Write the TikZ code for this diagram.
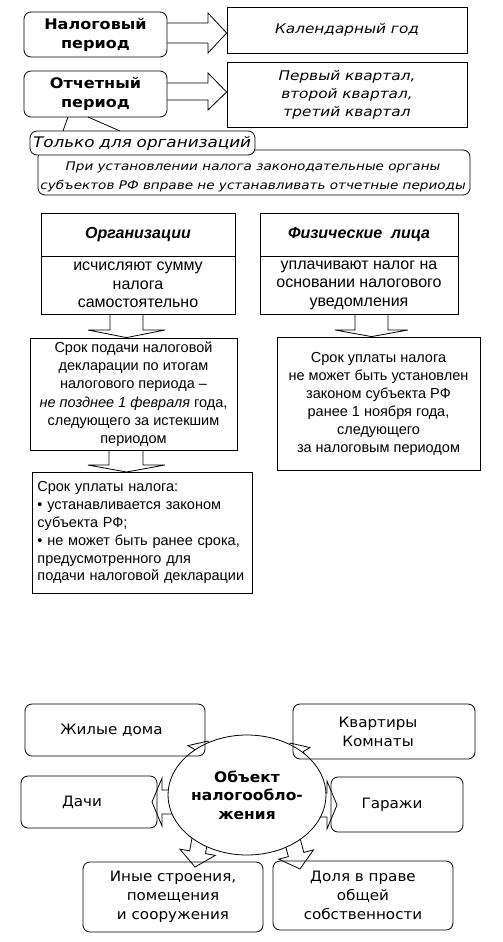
\documentclass[tikz,border=0pt]{standalone}
\usepackage{fontspec}
\newfontfamily\verd{DejaVu Sans}
\newfontfamily\verdi[FakeStretch=1.15]{DejaVu Sans}
\newfontfamily\verdb[FakeStretch=1.1]{DejaVu Sans}
\newfontfamily\verdl[FakeStretch=1.06]{DejaVu Sans}
\newfontfamily\arl{Liberation Sans}
\usetikzlibrary{calc,shapes.geometric}
\newcommand{\fs}[2]{\fontsize{#1}{#2}\selectfont}
\tikzset{
  box/.style={draw, line width=0.8pt, inner sep=0pt, align=center},
  rbox/.style={box, rounded corners=7pt},
  blk/.style={draw, line width=0.8pt, fill=white, line join=miter},
  con/.style={draw, line width=0.8pt},
  low/.style={font=\verdl\fs{14.3}{19}},
}
\newcommand{\barrow}[6]{\draw[blk, shift={#1}, rotate=#2] (0,0) -- (-#6,#5) -- (-#6,#4) -- (-#3,#4) -- (-#3,-#4) -- (-#6,-#4) -- (-#6,-#5) -- cycle;}
\begin{document}
\begin{tikzpicture}[x=1pt,y=-1pt]
\useasboundingbox[fill=white] (0,0) rectangle (503,942);
% ---------- top part ----------
\node[rbox, minimum width=143, minimum height=45, font=\verdb\bfseries\fs{14.6}{19}] (nal) at (95.5,34.5) {Налоговый\\период};
\node[box, minimum width=240, minimum height=46, font=\verdi\itshape\fs{13.3}{18}] (kal) at (347,30) {Календарный год};
\node[rbox, minimum width=143, minimum height=46, font=\verdb\bfseries\fs{14.6}{19}] (otch) at (95.5,94) {Отчетный\\период};
\node[box, minimum width=240, minimum height=65, font=\verdi\itshape\fs{13.3}{18}] (perv) at (347,94.5) {Первый квартал,\\второй квартал,\\третий квартал};
\draw[con] (nal.east |- 0,23) -- (208,23) -- (208,13) -- (kal.west |- 0,33) -- (208,53) -- (208,43) -- (nal.east |- 0,43);
\draw[con] (otch.east |- 0,83) -- (208,83) -- (208,73) -- (perv.west |- 0,92) -- (208,110) -- (208,100) -- (otch.east |- 0,100);
\node[rbox, minimum width=432, minimum height=45] (prim) at (254,172.5) {};
\node[font=\verdi\itshape\fs{11.8}{19.5}, align=center, inner sep=0pt] (primt) at (253,177) {При установлении налога законодательные органы\\субъектов РФ вправе не устанавливать отчетные периоды};
\coordinate (c1) at (68,117);
\coordinate (c2) at (88,117);
\coordinate (c3) at (63,131);
\coordinate (c4) at (120,131);
\draw[con] (c1) -- (c3);
\draw[con] (c2) -- (c4);
\node[rbox, fill=white, minimum width=225, minimum height=24, text width=219, inner xsep=3pt, align=left, font=\verdi\itshape\fs{14.6}{18}] (tol) at (142.5,143) {Только для организаций};
% ---------- middle part ----------
\node[box, minimum width=194, minimum height=43, font=\arl\bfseries\itshape\fs{16}{18}] (org) at (138,234.5) {Организации};
\node[box, minimum width=194, minimum height=58, font=\arl\fs{16}{18.5}] (orgb) at (138,285) {исчисляют сумму\\налога\\самостоятельно};
\node[box, minimum width=198, minimum height=43, font=\arl\bfseries\itshape\fs{16}{18}] (fiz) at (359,234.5) {Физические\ \ лица};
\node[box, minimum width=198, minimum height=58, font=\arl\fs{16}{18.5}] (fizb) at (359,285) {уплачивают налог на\\основании налогового\\уведомления};
\node[box, minimum width=207, minimum height=112, font=\arl\fs{14.5}{18.3}] (srok1) at (133.5,394) {Срок подачи налоговой\\декларации по итогам\\налогового периода –\\\textit{не позднее 1 февраля} года,\\следующего за истекшим\\периодом};
\node[box, minimum width=203, minimum height=133, font=\arl\fs{14.5}{18}] (srok2) at (378.5,403.5) {Срок уплаты налога\\не может быть установлен\\законом субъекта РФ\\ранее 1 ноября года,\\следующего\\за налоговым периодом};
\node[box, anchor=north west, minimum height=121, text width=210, inner xsep=5pt, align=left, font=\arl\fs{14.5}{17.8}] (srok3) at (32,472) {Срок уплаты налога:\\• устанавливается законом\\субъекта РФ;\\• не может быть ранее срока,\\предусмотренного для\\подачи налоговой декларации};
\draw[con] (110,0 |- orgb.south) -- (110,330) -- (88,330) -- (126.5,0 |- srok1.north) -- (165,330) -- (143,330) -- (143,0 |- orgb.south);
\draw[con] (355,0 |- fizb.south) -- (355,330) -- (335,330) -- (371.5,0 |- srok2.north) -- (408,330) -- (388,330) -- (388,0 |- fizb.south);
\draw[con] (109,0 |- srok1.south) -- (109,465) -- (88,465) -- (126.5,0 |- srok3.north) -- (165,465) -- (143,465) -- (143,0 |- srok1.south);
% ---------- bottom part ----------
\barrow{(208,741)}{60}{50}{7}{15}{14}
\barrow{(290,743)}{120}{50}{7}{15}{14}
\barrow{(152,802)}{180}{50}{12}{24}{10}
\barrow{(337,805)}{0}{50}{12}{24}{10}
\barrow{(195,867)}{-100}{50}{8}{18}{15}
\barrow{(300,869)}{-75}{50}{8}{18}{15}
\node[draw, line width=0.8pt, fill=white, ellipse, minimum width=140, minimum height=120, inner sep=0pt, align=center, font=\verdl\bfseries\fs{14.6}{18.5}] (obj) at (247,795) {Объект\\налогообло-\\жения};
\node[rbox, minimum width=180, minimum height=52, low] (zhil) at (115,730) {\hspace*{-7pt}Жилые дома};
\node[rbox, minimum width=182, minimum height=55, low] (kvar) at (384,731.5) {\hspace*{-12pt}Квартиры\\\hspace*{-12pt}Комнаты};
\node[rbox, minimum width=136, minimum height=52, low] (dach) at (89,802) {\hspace*{-14pt}Дачи};
\node[rbox, minimum width=132, minimum height=55, low] (gar) at (397,804.5) {\hspace*{-10pt}Гаражи};
\node[rbox, minimum width=180, minimum height=70, low] (inye) at (173,897) {Иные строения,\\помещения\\и сооружения};
\node[rbox, minimum width=180, minimum height=69, low] (dolya) at (363,895.5) {Доля в праве\\общей\\собственности};
\end{tikzpicture}
\end{document}
